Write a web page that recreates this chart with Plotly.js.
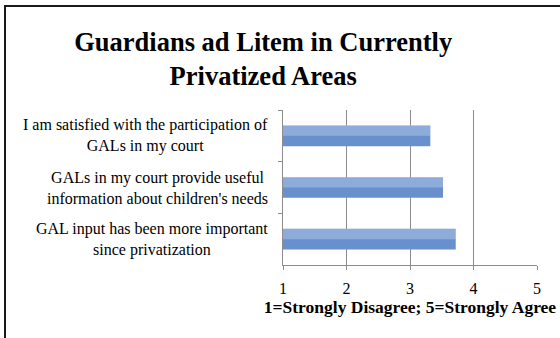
<!DOCTYPE html>
<html>
<head>
<meta charset="utf-8">
<script src="https://cdn.plot.ly/plotly-3.0.1.min.js"></script>
<style>
  html, body { margin: 0; padding: 0; background: #fff; }
  #wrap { position: relative; width: 560px; height: 338px; overflow: hidden; }
  #chart { width: 560px; height: 338px; }
  #frame { position: absolute; left: 4px; top: 5px; width: 700px; height: 500px;
           border: 2px solid #1a1a1a; pointer-events: none; }
</style>
</head>
<body>
<div id="wrap">
  <div id="chart"></div>
  <div id="frame"></div>
</div>
<script>
const titleText = "Guardians ad Litem in Currently<br>Privatized Areas";
const xAxisTitle = "1=Strongly Disagree; 5=Strongly Agree";
const categories = [
  "I am satisfied with the participation of<br>GALs in my court",
  "GALs in my court provide useful<br>information about children's needs",
  "GAL input has been more important<br>since privatization"
];
const values = [3.32, 3.52, 3.72];
const tickValues = [1, 2, 3, 4, 5];
const tickLabels = ["1", "2", "3", "4", "5"];

const serif = "'Liberation Serif', 'DejaVu Serif', serif";

const bars = {
  type: "bar",
  orientation: "h",
  y: categories,
  x: values,
  width: 0.4,
  marker: { color: "#6890cc", line: { width: 0 } },
  hoverinfo: "none",
  showlegend: false
};
const highlight = {
  type: "bar",
  orientation: "h",
  y: categories,
  x: values,
  width: 0.2,
  offset: -0.2,
  marker: { color: "rgba(255,255,255,0.25)", line: { width: 0 } },
  hoverinfo: "none",
  showlegend: false
};

const annotations = categories.map(c => ({
  xref: "paper", yref: "y", x: 0, y: c,
  xanchor: "right", xshift: -13, align: "center",
  text: c, showarrow: false,
  font: { family: serif, size: 16, color: "#000" }
}));

const layout = {
  width: 560, height: 338,
  margin: { l: 283, r: 23, t: 110, b: 73 },
  paper_bgcolor: "#fff", plot_bgcolor: "#fff",
  barmode: "overlay",
  title: {
    text: titleText, x: 0.47, xanchor: "center", y: 0.849, yanchor: "top",
    xref: "container", yref: "container",
    font: { family: serif, size: 26.5, color: "#000", weight: "bold" }
  },
  xaxis: {
    range: [1, 5], tickvals: tickValues, ticktext: tickLabels,
    showgrid: true, gridcolor: "#8c8c8c", gridwidth: 1,
    showline: true, linecolor: "#8c8c8c", linewidth: 1,
    ticks: "outside", ticklen: 4, tickcolor: "#8c8c8c",
    ticklabelstandoff: 5,
    zeroline: false,
    tickfont: { family: serif, size: 16, color: "#000" },
    title: { text: xAxisTitle, standoff: 3,
             font: { family: serif, size: 17.5, color: "#000", weight: "bold" } },
    fixedrange: true
  },
  yaxis: {
    type: "category", autorange: "reversed",
    showticklabels: false, showgrid: false,
    showline: true, linecolor: "#8c8c8c", linewidth: 1,
    ticks: "outside", ticklen: 4, tickcolor: "#8c8c8c", tickson: "boundaries",
    zeroline: false, fixedrange: true
  },
  annotations: annotations
};

Plotly.newPlot("chart", [bars, highlight], layout, { displayModeBar: false, staticPlot: true });
</script>
</body>
</html>
